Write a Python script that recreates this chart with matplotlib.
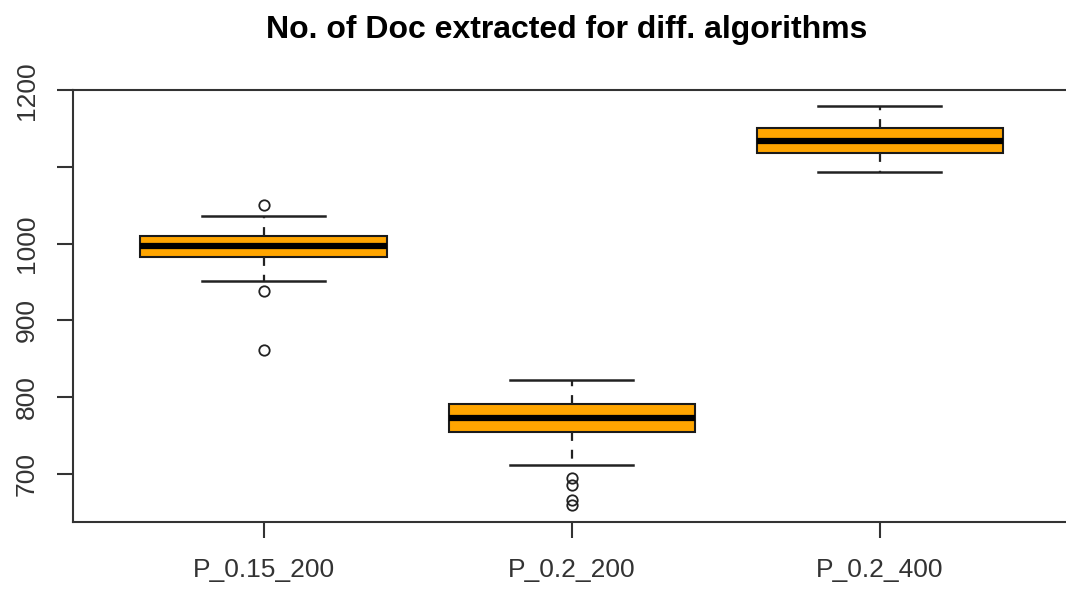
import matplotlib
matplotlib.use("Agg")
import matplotlib.pyplot as plt

plt.rcParams['font.family'] = ['Liberation Sans', 'DejaVu Sans']

# summary stats per algorithm (read as box-plot quantities)
groups = ["P_0.15_200", "P_0.2_200", "P_0.2_400"]
whisk_lo = [952, 711, 1094]
q1 = [982.5, 754.5, 1118]
medians = [997, 773, 1134]
q3 = [1009.5, 790.5, 1151]
whisk_hi = [1036, 822, 1180]
outliers = [
    [1051, 939, 861],
    [694.5, 686, 666, 660],
    [],
]

stats = []
for i, name in enumerate(groups):
    stats.append(dict(label=name, whislo=whisk_lo[i], q1=q1[i], med=medians[i],
                      q3=q3[i], whishi=whisk_hi[i], fliers=outliers[i]))

fig = plt.figure(figsize=(10.66, 5.9), dpi=100)
# plot region runs a little past the right edge of the canvas
ax = fig.add_axes([0.0682, 0.1161, 1.0045 - 0.0682, 0.8483 - 0.1161])

line_col = "#222222"
ax.bxp(stats, positions=[1, 2, 3], widths=0.8, patch_artist=True,
       boxprops=dict(facecolor="#FFA500", edgecolor="#1a1a1a", linewidth=1.5),
       medianprops=dict(color="black", linewidth=4.5, solid_capstyle="butt"),
       whiskerprops=dict(color=line_col, linewidth=1.6, linestyle=(0, (4, 4))),
       capprops=dict(color=line_col, linewidth=1.8),
       flierprops=dict(marker="o", markerfacecolor="none", markeredgecolor=line_col,
                       markersize=7.5, markeredgewidth=1.3))

ax.set_xlim(0.38, 3.62)
ax.set_ylim(638, 1201)

ax.set_yticks([700, 800, 900, 1000, 1100, 1200])
ax.set_yticklabels(["700", "800", "900", "1000", "", "1200"], rotation=90, va="center")
ax.set_xticks([1, 2, 3])
ax.set_xticklabels(groups)

ax.tick_params(axis="both", direction="out", length=11.5, width=1.5,
               color="#333333", labelsize=19, labelcolor="#333333")
ax.tick_params(axis="y", pad=13)
ax.tick_params(axis="x", pad=15)

for sp in ax.spines.values():
    sp.set_linewidth(1.5)
    sp.set_color("#333333")

fig.text(0.532, 1 - 38 / 590, "No. of Doc extracted for diff. algorithms",
         ha="center", va="baseline", fontsize=23, fontweight="bold", color="black")

fig.savefig("out.png", dpi=100)
